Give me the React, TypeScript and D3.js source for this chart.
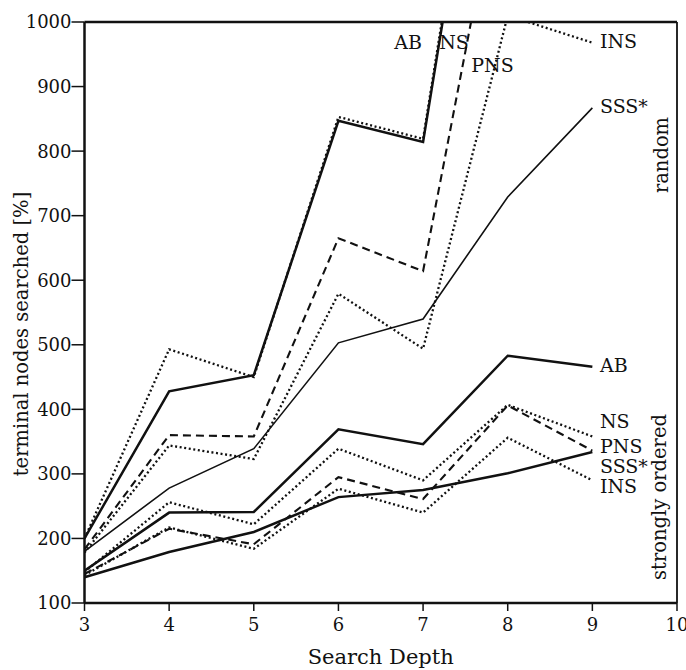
import React from "react";
import * as d3 from "d3";

// ---------- data ----------
const depths = [3, 4, 5, 6, 7, 8, 9];

// random move ordering (values beyond 1000 leave the frame and are clipped)
const randomAB = [200, 428, 453, 847, 814, 1620];
const randomNS = [200, 493, 450, 853, 819, 1640];
const randomPNS = [183, 360, 358, 665, 614, 1295];
const randomINS = [178, 344, 323, 579, 494, 1010, 968];
const randomSSS = [180, 278, 339, 503, 540, 729, 867];

// strongly ordered
const orderedAB = [150, 240, 241, 369, 346, 483, 466];
const orderedNS = [148, 256, 222, 339, 290, 407, 358];
const orderedPNS = [145, 215, 191, 295, 261, 406, 336];
const orderedSSS = [140, 179, 210, 264, 275, 301, 334];
const orderedINS = [143, 217, 184, 277, 240, 356, 290];

const xTicks = [3, 4, 5, 6, 7, 8, 9, 10];
const yTicks = [100, 200, 300, 400, 500, 600, 700, 800, 900, 1000];

type Style = "thick" | "thin" | "dashed" | "dotted";
const seriesList: { name: string; values: number[]; style: Style }[] = [
  { name: "AB random", values: randomAB, style: "thick" },
  { name: "NS random", values: randomNS, style: "dotted" },
  { name: "PNS random", values: randomPNS, style: "dashed" },
  { name: "INS random", values: randomINS, style: "dotted" },
  { name: "SSS* random", values: randomSSS, style: "thin" },
  { name: "AB ordered", values: orderedAB, style: "thick" },
  { name: "NS ordered", values: orderedNS, style: "dotted" },
  { name: "PNS ordered", values: orderedPNS, style: "dashed" },
  { name: "SSS* ordered", values: orderedSSS, style: "thick" },
  { name: "INS ordered", values: orderedINS, style: "dotted" },
];

// label anchors in data space (depth, value)
const labelText = ["AB", "NS", "PNS", "INS", "SSS*", "AB", "NS", "PNS", "SSS*", "INS"];
const labelDepth = [6.66, 7.19, 7.57, 9.09, 9.09, 9.09, 9.09, 9.09, 9.09, 9.09];
const labelValue = [958, 958, 922, 960, 859, 458, 371, 332, 301, 270];

// ---------- layout ----------
const W = 686;
const H = 670;
const left = 84.5;
const right = 677;
const top = 22;
const bottom = 603;

const FONT = "'DejaVu Serif', 'Liberation Serif', serif";

export default function App() {
  const x = d3.scaleLinear().domain([3, 10]).range([left, right]);
  const y = d3.scaleLinear().domain([100, 1000]).range([bottom, top]);

  const line = d3
    .line<number>()
    .x((_, i) => x(depths[i]))
    .y((d) => y(d));

  const styleProps = (s: Style) => {
    switch (s) {
      case "thick":
        return { strokeWidth: 2.5 };
      case "thin":
        return { strokeWidth: 1.6 };
      case "dashed":
        return { strokeWidth: 2.1, strokeDasharray: "8 5" };
      case "dotted":
        return { strokeWidth: 2.3, strokeDasharray: "2 2.6" };
    }
  };

  return (
    <svg
      width={W}
      height={H}
      style={{ position: "absolute", left: 0, top: 0, background: "#fff" }}
      fontFamily={FONT}
    >
      <rect x={0} y={0} width={W} height={H} fill="#fff" />
      <defs>
        <clipPath id="plot">
          <rect x={left} y={top} width={right - left} height={bottom - top} />
        </clipPath>
      </defs>

      {/* series */}
      <g clipPath="url(#plot)">
        {seriesList.map((s) => (
          <path
            key={s.name}
            d={line(s.values) || ""}
            fill="none"
            stroke="#111"
            strokeLinejoin="miter"
            {...styleProps(s.style)}
          />
        ))}
      </g>

      {/* frame */}
      <line x1={left} x2={right} y1={top} y2={top} stroke="#111" strokeWidth={2.5} />
      <line x1={left} x2={right} y1={bottom} y2={bottom} stroke="#111" strokeWidth={2.5} />
      <line x1={left} x2={left} y1={top} y2={bottom} stroke="#111" strokeWidth={2.5} />
      <line x1={right} x2={right} y1={top} y2={bottom} stroke="#111" strokeWidth={1.8} />

      {/* y ticks */}
      {yTicks.map((t) => (
        <g key={"y" + t}>
          <line x1={left - 13} x2={left} y1={y(t)} y2={y(t)} stroke="#111" strokeWidth={1.5} />
          <text x={left - 13} y={y(t)} dy="0.36em" textAnchor="end" fontSize={18} fill="#111">
            {t}
          </text>
        </g>
      ))}

      {/* x ticks */}
      {xTicks.map((t) => (
        <g key={"x" + t}>
          <line x1={x(t)} x2={x(t)} y1={bottom} y2={bottom + 8} stroke="#111" strokeWidth={1.5} />
          <text x={x(t)} y={bottom + 28} textAnchor="middle" fontSize={18} fill="#111">
            {t}
          </text>
        </g>
      ))}

      {/* axis titles */}
      <text x={(left + right) / 2} y={664} textAnchor="middle" fontSize={21} fill="#111">
        Search Depth
      </text>
      <text
        transform={`translate(28, ${334}) rotate(-90)`}
        textAnchor="middle"
        fontSize={19.5}
        fill="#111"
      >
        terminal nodes searched [%]
      </text>

      {/* group captions */}
      <text transform={`translate(668, 155) rotate(-90)`} textAnchor="middle" fontSize={19.5} fill="#111">
        random
      </text>
      <text transform={`translate(666, 497) rotate(-90)`} textAnchor="middle" fontSize={19.5} fill="#111">
        strongly ordered
      </text>

      {/* series labels */}
      {labelText.map((t, i) => (
        <text key={"l" + i} x={x(labelDepth[i])} y={y(labelValue[i])} fontSize={19} fill="#111">
          {t}
        </text>
      ))}
    </svg>
  );
}
